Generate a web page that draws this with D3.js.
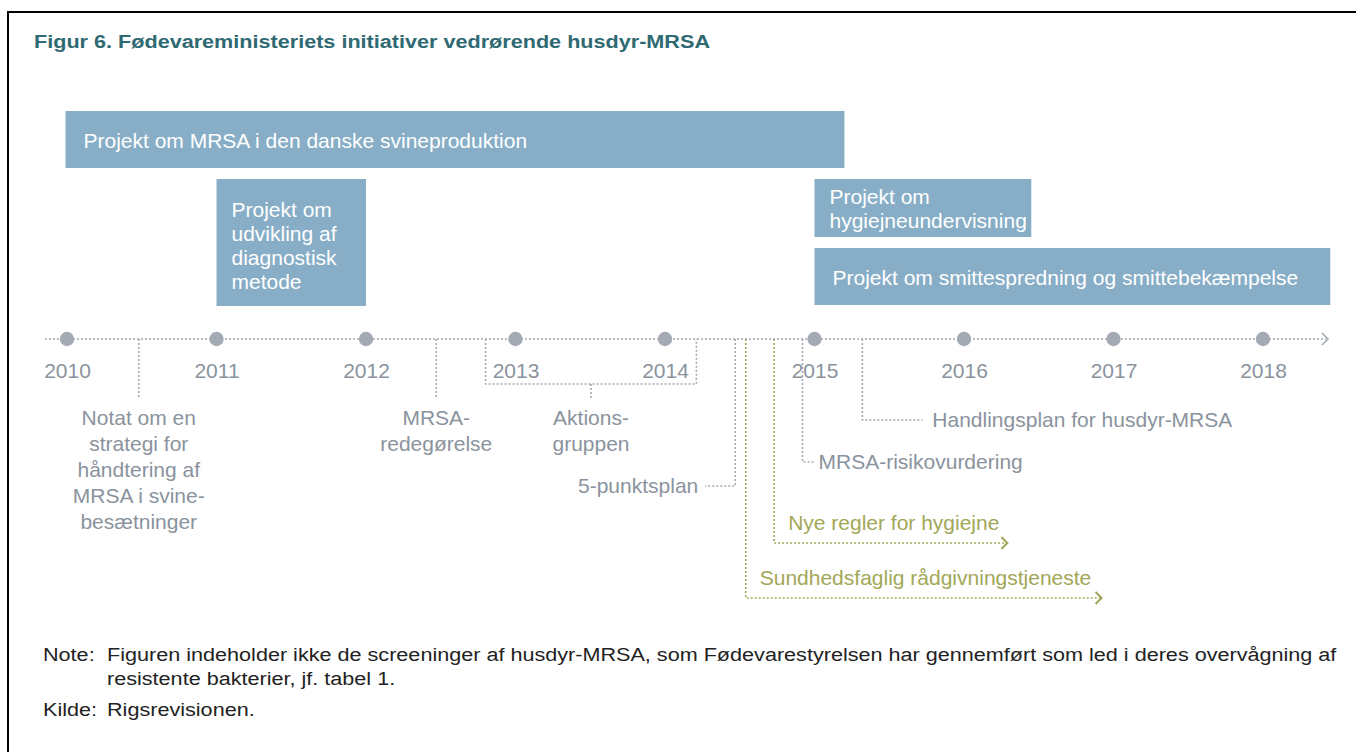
<!DOCTYPE html>
<html>
<head>
<meta charset="utf-8">
<script src="https://cdn.jsdelivr.net/npm/d3@7"></script>
<style>
  body { margin: 0; background: #fff; }
  text { font-family: "Liberation Sans", Arial, sans-serif; }
</style>
</head>
<body>
<div id="chart"></div>
<script>
// timeline data
var years = [2010, 2011, 2012, 2013, 2014, 2015, 2016, 2017, 2018];

// projects (blue boxes)
var projectLabels = [
  ["Projekt om MRSA i den danske svineproduktion"],
  ["Projekt om", "udvikling af", "diagnostisk", "metode"],
  ["Projekt om", "hygiejneundervisning"],
  ["Projekt om smittespredning og smittebekæmpelse"]
];
var projectStart = [2009.99, 2011.0, 2015.0, 2015.0];
var projectEnd = [2015.2, 2012.0, 2016.45, 2018.45];

// single events (grey) and ongoing initiatives (green)
var eventLabels = [
  ["Notat om en", "strategi for", "håndtering af", "MRSA i svine-", "besætninger"],
  ["MRSA-", "redegørelse"],
  ["5-punktsplan"],
  ["MRSA-risikovurdering"],
  ["Handlingsplan for husdyr-MRSA"]
];
var eventDates = [2010.48, 2012.47, 2014.47, 2014.92, 2015.32];

var groupLabel = ["Aktions-", "gruppen"];
var groupStart = 2012.8;
var groupEnd = 2014.21;

var greenLabels = ["Nye regler for hygiejne", "Sundhedsfaglig rådgivningstjeneste"];
var greenStart = [2014.73, 2014.54];
var greenArrowEnd = [2016.29, 2016.92];

var title = "Figur 6. Fødevareministeriets initiativer vedrørende husdyr-MRSA";
var noteLines = ["Figuren indeholder ikke de screeninger af husdyr-MRSA, som Fødevarestyrelsen har gennemført som led i deres overvågning af",
                 "resistente bakterier, jf. tabel 1."];
var sourceText = "Rigsrevisionen.";

var W = 1356, H = 752;
var axisY = 339;
var grey = "#8a939d", dotGrey = "#a4aab4", lineGrey = "#a3a9b2", green = "#a2a757", blue = "#87aec6";
var fs = 21;

var svg = d3.select("#chart").append("svg")
  .attr("width", W).attr("height", H);

svg.append("rect").attr("width", W).attr("height", H).attr("fill", "#fff");

// frame: top and left rule
svg.append("path")
  .attr("d", "M8," + H + "V12H" + W)
  .attr("fill", "none").attr("stroke", "#000").attr("stroke-width", 2);

// title (wide face in the original)
svg.append("text")
  .attr("x", 34).attr("y", 48)
  .attr("font-size", 18).attr("font-weight", "bold")
  .attr("fill", "#2f6a73")
  .attr("textLength", 676).attr("lengthAdjust", "spacingAndGlyphs")
  .text(title);

var x = d3.scaleLinear().domain([2010, 2018]).range([67, 1263]);

// project boxes, layout per box
var boxY = [111, 179, 179, 248];
var boxH = [57, 127, 58, 57];
var lineH = 24;

projectLabels.forEach(function(lines, i) {
  var g = svg.append("g");
  g.append("rect")
    .attr("x", x(projectStart[i]))
    .attr("y", boxY[i])
    .attr("width", x(projectEnd[i]) - x(projectStart[i]))
    .attr("height", boxH[i])
    .attr("fill", blue);
  var padX = lines.length > 1 ? 15 : 18;
  var firstBase = boxY[i] + (i == 1 ? 38 : (lines.length > 1 ? 25 : 37));
  g.selectAll("text").data(lines).enter().append("text")
    .attr("x", x(projectStart[i]) + padX)
    .attr("y", function(d, j) { return firstBase + j * lineH; })
    .attr("font-size", fs)
    .attr("fill", "#fff")
    .text(function(d) { return d; });
});

// dotted connectors
function dotted(d, col) {
  svg.append("path").attr("d", d)
    .attr("fill", "none")
    .attr("stroke", col)
    .attr("stroke-width", 1.6)
    .attr("stroke-dasharray", "2,2");
}

// main axis line with arrow head
dotted("M45," + axisY + "H1326", lineGrey);
svg.append("path")
  .attr("d", "M1322," + (axisY - 6) + "L1328," + axisY + "L1322," + (axisY + 6))
  .attr("fill", "none").attr("stroke", lineGrey).attr("stroke-width", 1.5);

// event connectors and labels
var evText = svg.append("g").attr("font-size", fs).attr("fill", grey);

// notat + redegørelse: straight drop, centred text
[0, 1].forEach(function(i) {
  var ex = x(eventDates[i]);
  dotted("M" + ex + "," + axisY + "V399", lineGrey);
  evText.append("g").selectAll("text").data(eventLabels[i]).enter().append("text")
    .attr("x", ex).attr("y", function(d, j) { return 425 + j * 26; })
    .attr("text-anchor", "middle")
    .text(function(d) { return d; });
});

// aktionsgruppen bracket
var g0 = x(groupStart), g1 = x(groupEnd), gm = (g0 + g1) / 2;
dotted("M" + g0 + "," + axisY + "V384H" + g1 + "V" + axisY, lineGrey);
dotted("M" + gm + ",384V400", lineGrey);
evText.append("g").selectAll("text").data(groupLabel).enter().append("text")
  .attr("x", gm).attr("y", function(d, j) { return 425 + j * 26; })
  .attr("text-anchor", "middle")
  .text(function(d) { return d; });

// 5-punktsplan: elbow to the left
var e2 = x(eventDates[2]);
dotted("M" + e2 + "," + axisY + "V486H" + (e2 - 30), lineGrey);
evText.append("text").attr("x", e2 - 37).attr("y", 493)
  .attr("text-anchor", "end").text(eventLabels[2][0]);

// risikovurdering: elbow to the right
var e3 = x(eventDates[3]);
dotted("M" + e3 + "," + axisY + "V462H" + (e3 + 11), lineGrey);
evText.append("text").attr("x", e3 + 16).attr("y", 469).text(eventLabels[3][0]);

// handlingsplan
var e4 = x(eventDates[4]);
dotted("M" + e4 + "," + axisY + "V420H" + (e4 + 60), lineGrey);
evText.append("text").attr("x", e4 + 70).attr("y", 427).text(eventLabels[4][0]);

// green ongoing initiatives
var greenLineY = [543, 598];
greenLabels.forEach(function(lab, i) {
  var s = x(greenStart[i]), e = x(greenArrowEnd[i]), yy = greenLineY[i];
  dotted("M" + s + "," + axisY + "V" + yy + "H" + (e - 1), green);
  svg.append("path")
    .attr("d", "M" + (e - 6) + "," + (yy - 6) + "L" + e + "," + yy + "L" + (e - 6) + "," + (yy + 6))
    .attr("fill", "none").attr("stroke", green).attr("stroke-width", 2);
  svg.append("text")
    .attr("x", s + 14).attr("y", yy - 13)
    .attr("font-size", fs).attr("fill", green)
    .text(lab);
});

// year dots
svg.append("g").selectAll("circle").data(years).enter().append("circle")
  .attr("cx", function(d) { return x(d); })
  .attr("cy", axisY)
  .attr("r", 7.2)
  .attr("fill", dotGrey);

// year labels through a d3 axis
var yearAxis = svg.append("g")
  .attr("transform", "translate(0," + (axisY + 21) + ")")
  .call(d3.axisBottom(x).tickValues(years).tickFormat(d3.format("d")).tickSize(0));
yearAxis.select(".domain").remove();
yearAxis.selectAll("text")
  .attr("font-size", fs)
  .attr("font-family", "Liberation Sans, Arial, sans-serif")
  .attr("fill", grey)
  .attr("dy", "0.71em");

// note and source
var notes = svg.append("g").attr("font-size", 18).attr("fill", "#222");
notes.append("text").attr("x", 43).attr("y", 661).text("Note:");
notes.selectAll(".nl").data(noteLines).enter().append("text")
  .attr("class", "nl")
  .attr("x", 107)
  .attr("y", function(d, i) { return 661 + i * 24; })
  .text(function(d) { return d; });
notes.append("text").attr("x", 43).attr("y", 716).text("Kilde:");
notes.append("text").attr("x", 107).attr("y", 716).text(sourceText);

// stretch note lines to the wide face of the original
notes.selectAll("text").each(function() {
  var t = d3.select(this);
  var w = this.getComputedTextLength();
  t.attr("textLength", w * 1.2).attr("lengthAdjust", "spacingAndGlyphs");
});
</script>
</body>
</html>
